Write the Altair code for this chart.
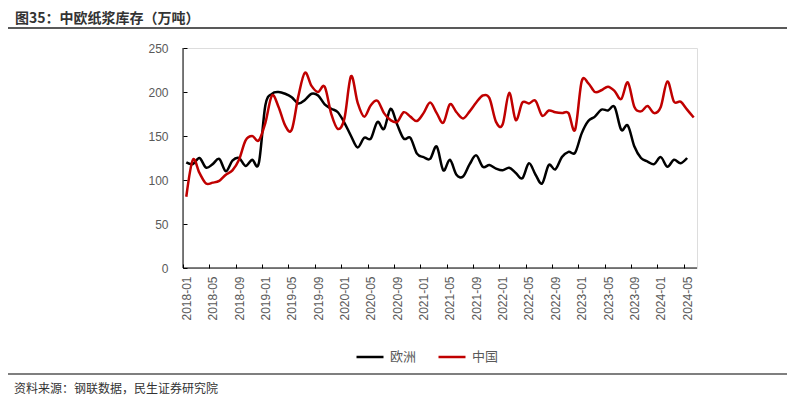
import json
import altair as alt
import pandas as pd

# Month categories (2018-01 .. 2024-06)
months = [f"{2018 + i // 12}-{i % 12 + 1:02d}" for i in range(78)]

# 欧洲 (black), 2018-01 .. 2024-05
europe = [120, 118, 125, 114, 118, 124, 110, 122, 125, 116, 123, 119,
          185, 198, 200, 198, 194, 187, 191, 198, 196, 186, 181, 177,
          165, 150, 137, 148, 147, 166, 158, 181, 163, 147, 148, 130,
          126, 124, 138, 111, 123, 106, 104, 118, 128, 115, 117, 113,
          111, 114, 108, 102, 119, 106, 96, 117, 112, 126, 132, 131,
          153, 167, 172, 180, 179, 183, 157, 162, 138, 125, 121, 118,
          126, 115, 123, 119, 125]

# 中国 (red), 2018-01 .. 2024-06
china = [81, 123, 108, 96, 97, 99, 106, 111, 123, 145, 150, 145,
         165, 196, 183, 162, 157, 195, 222, 207, 200, 206, 175, 158,
         170, 218, 188, 172, 185, 190, 176, 168, 166, 177, 172, 167,
         176, 188, 176, 165, 186, 177, 170, 178, 188, 196, 193, 166,
         163, 199, 168, 188, 187, 190, 173, 179, 177, 176, 176, 157,
         212, 210, 200, 202, 206, 201, 192, 211, 183, 178, 184, 176,
         183, 212, 189, 189, 180, 171]

series_names = ["欧洲", "中国"]
series_colors = ["#000000", "#C00000"]
y_ticks = [0, 50, 100, 150, 200, 250]
x_tick_idx = list(range(0, 78, 4))

rows = []
for i, v in enumerate(europe):
    rows.append({"idx": i, "month": months[i], "series": "欧洲", "value": v})
for i, v in enumerate(china):
    rows.append({"idx": i, "month": months[i], "series": "中国", "value": v})
df = pd.DataFrame(rows)

W, H = 514, 220
half = W / 78 / 2
NUM_FONT = "Liberation Sans"
CJK_FONT = "Noto Sans CJK SC"
GRAY = "#595959"

label_expr = json.dumps(months) + "[datum.value]"

lines = alt.Chart(df).mark_line(strokeWidth=2.5, interpolate="cardinal").encode(
    x=alt.X("idx:Q",
            scale=alt.Scale(domain=[-0.5, 77.5], nice=False, zero=False),
            axis=alt.Axis(values=x_tick_idx, labelExpr=label_expr, labelAngle=270,
                          offset=-4, tickSize=4, tickOffset=-half, labelOffset=half,
                          domain=False, grid=False, labelPadding=8, tickColor="#000000",
                          labelFont=NUM_FONT, labelFontSize=12, labelColor=GRAY, title=None)),
    y=alt.Y("value:Q",
            scale=alt.Scale(domain=[0, 250], nice=False),
            axis=alt.Axis(values=y_ticks, offset=-4, tickSize=4, domain=False, grid=False,
                          labelPadding=15, tickColor="#000000",
                          labelFont=NUM_FONT, labelFontSize=12, labelColor=GRAY, title=None)),
    color=alt.Color("series:N",
                    scale=alt.Scale(domain=series_names, range=series_colors),
                    legend=alt.Legend(orient="none", legendX=172, legendY=294, direction="horizontal",
                                      title=None, symbolType="stroke", symbolSize=729,
                                      symbolStrokeWidth=2.5, labelFont=CJK_FONT, labelFontSize=13,
                                      labelColor=GRAY, labelOffset=5, columnPadding=16)),
    detail="series:N",
)

one = pd.DataFrame({"a": [0]})

x_axis_line = alt.Chart(one).mark_rule(color="#000000", strokeWidth=1).encode(
    x=alt.value(0), x2=alt.value(W), y=alt.value(H))
y_axis_line = alt.Chart(one).mark_rule(color="#000000", strokeWidth=1).encode(
    x=alt.value(0), y=alt.value(0), y2=alt.value(H))

top_line = alt.Chart(one).mark_rule(color="#595959", strokeWidth=2).encode(
    x=alt.value(-178), x2=alt.value(607), y=alt.value(-20))
bottom_line = alt.Chart(one).mark_rule(color="#7f7f7f", strokeWidth=2).encode(
    x=alt.value(-178), x2=alt.value(607), y=alt.value(326))

title = alt.Chart(one).mark_text(align="left", baseline="middle", font=CJK_FONT, fontSize=14,
                                 fontWeight="bold", color="#333333").encode(
    x=alt.value(-168), y=alt.value(-29.5), text=alt.value("图35：中欧纸浆库存（万吨）"))
source = alt.Chart(one).mark_text(align="left", baseline="middle", font=CJK_FONT, fontSize=12,
                                  color="#333333").encode(
    x=alt.value(-169), y=alt.value(341), text=alt.value("资料来源：钢联数据，民生证券研究院"))

chart = alt.layer(lines, x_axis_line, y_axis_line, top_line, bottom_line, title, source).properties(
    width=W, height=H,
    autosize=alt.AutoSizeParams(type="none"),
    padding={"left": 175, "top": 40, "right": 90, "bottom": 130},
).configure_view(stroke=None).configure(background="white")

chart.save("out.html", embed_options={"renderer": "svg", "actions": False})
